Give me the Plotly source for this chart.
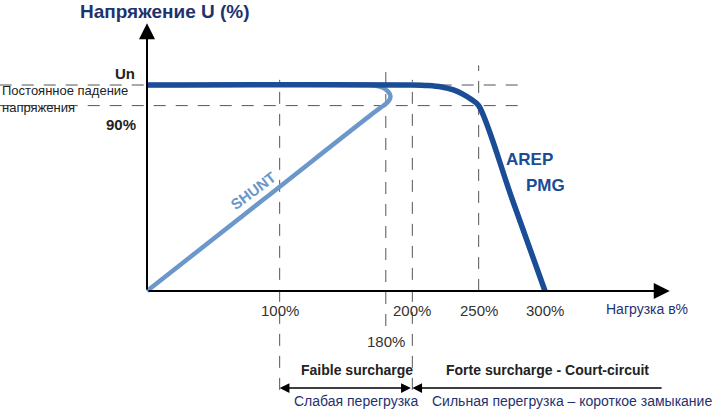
import plotly.graph_objects as go

# ---- data (load %, voltage %) ----
arep_load = [0, 200, 212, 222, 231, 238, 244, 250, 275, 300]
arep_volt = [100, 100, 99.7, 99.0, 97.6, 95.6, 93.2, 90, 45, 0]

shunt_load = [0, 165, 172, 178, 182, 183.5, 182.5, 179.5, 176, 88, 0]
shunt_volt = [100, 100, 99.8, 98.6, 96.6, 94.6, 92.5, 90.5, 89, 44.5, 0]

x_ticks = [100, 200, 250, 300]
x_tick_labels = ["100%", "200%", "250%", "300%"]
x_mark_180 = 180
y_levels = [100, 90]
y_level_labels = ["Un", "90%"]

AREP_C = "#1b4c96"
SHUNT_C = "#6b97ca"
NAVY = "#1f3270"
GRAY = "#555555"
SANS = "Liberation Sans, Arial"

fig = go.Figure()

# dashed guide lines
dash = "12px,10px"
for lvl in y_levels:
    fig.add_shape(type="line", x0=-111, x1=286, y0=lvl, y1=lvl,
                  line=dict(color=GRAY, width=1, dash=dash), layer="below")
for xv, y0, y1 in [(100, -48, 102.5), (x_mark_180, -17, 108.5),
                   (200, -48, 102.5), (250, 0, 109.5)]:
    fig.add_shape(type="line", x0=xv, x1=xv, y0=y0, y1=y1,
                  line=dict(color=GRAY, width=1, dash=dash), layer="below")

# curves
fig.add_trace(go.Scatter(x=shunt_load, y=shunt_volt, mode="lines",
                         line=dict(color=SHUNT_C, width=4.5, shape="spline", smoothing=1.0),
                         hoverinfo="skip"))
fig.add_trace(go.Scatter(x=arep_load, y=arep_volt, mode="lines",
                         line=dict(color=AREP_C, width=5.5, shape="spline", smoothing=0.9),
                         hoverinfo="skip"))

ann = []
# axes with arrows
ann.append(dict(x=394, y=0, ax=0, ay=0, axref="x", ayref="y", xref="x", yref="y",
                text="", showarrow=True, arrowhead=2, arrowsize=1.6, arrowwidth=2,
                arrowcolor="black", standoff=0))
ann.append(dict(x=0, y=130, ax=0, ay=0, axref="x", ayref="y", xref="x", yref="y",
                text="", showarrow=True, arrowhead=2, arrowsize=1.6, arrowwidth=2,
                arrowcolor="black", standoff=0))

# titles
ann.append(dict(x=13.5, y=135.5, text="<b>Напряжение U (%)</b>", showarrow=False,
                font=dict(family=SANS, size=19, color=NAVY), xanchor="center", yanchor="middle"))
ann.append(dict(x=377, y=-8.7, text="Нагрузка в%", showarrow=False,
                font=dict(family=SANS, size=14, color=NAVY), xanchor="center", yanchor="middle"))

# y labels
ann.append(dict(x=-7.5, y=105.8, text="<b>" + y_level_labels[0] + "</b>", showarrow=False,
                font=dict(family=SANS, size=15, color="#222"), xanchor="right", yanchor="middle"))
ann.append(dict(x=-7, y=81, text="<b>" + y_level_labels[1] + "</b>", showarrow=False,
                font=dict(family=SANS, size=15, color="#222"), xanchor="right", yanchor="middle"))
ann.append(dict(x=-110.3, y=93.4, text="Постоянное падение", showarrow=False, borderpad=0,
                font=dict(family=SANS, size=13, color="#222"), xanchor="left", yanchor="bottom"))
ann.append(dict(x=-110.3, y=93.4, text="напряжения", showarrow=False, borderpad=0,
                font=dict(family=SANS, size=13, color="#222"), xanchor="left", yanchor="top"))

# x tick labels
for xv, lab in zip(x_ticks, x_tick_labels):
    ann.append(dict(x=xv, y=-9.7, text=lab, showarrow=False,
                    font=dict(family=SANS, size=15, color="#333"), xanchor="center", yanchor="middle"))
ann.append(dict(x=x_mark_180, y=-24.3, text="180%", showarrow=False,
                font=dict(family=SANS, size=15, color="#333"), xanchor="center", yanchor="middle"))

# curve labels
ann.append(dict(x=80, y=49, text="<b>SHUNT</b>", showarrow=False, textangle=-37,
                font=dict(family=SANS, size=15, color=SHUNT_C)))
ann.append(dict(x=288, y=63.6, text="<b>AREP</b>", showarrow=False,
                font=dict(family=SANS, size=17, color=AREP_C)))
ann.append(dict(x=300, y=51, text="<b>PMG</b>", showarrow=False,
                font=dict(family=SANS, size=17, color=AREP_C)))

# bracket zones
ann.append(dict(x=158, y=-38.3, text="<b>Faible surcharge</b>", showarrow=False,
                font=dict(family=SANS, size=14, color="#222")))
ann.append(dict(x=302, y=-38.3, text="<b>Forte surcharge - Court-circuit</b>", showarrow=False,
                font=dict(family=SANS, size=14, color="#222")))
ann.append(dict(x=100, y=-47.1, ax=200, ay=-47.1, axref="x", ayref="y", xref="x", yref="y",
                text="", showarrow=True, arrowhead=2, startarrowhead=2, arrowside="end+start",
                arrowsize=1.3, startarrowsize=1.3, arrowwidth=1.5, arrowcolor="black", standoff=0))
ann.append(dict(x=200, y=-47.1, ax=389, ay=-47.1, axref="x", ayref="y", xref="x", yref="y",
                text="", showarrow=True, arrowhead=2, arrowsize=1.3, arrowwidth=1.5,
                arrowcolor="black", standoff=0))
ann.append(dict(x=158, y=-53.4, text="Слабая перегрузка", showarrow=False,
                font=dict(family=SANS, size=14, color=NAVY)))
ann.append(dict(x=320, y=-53.4, text="Сильная перегрузка – короткое замыкание", showarrow=False,
                font=dict(family=SANS, size=14, color=NAVY)))

fig.update_layout(
    width=720, height=410,
    margin=dict(l=0, r=0, t=0, b=0),
    paper_bgcolor="white", plot_bgcolor="white",
    showlegend=False,
    xaxis=dict(range=[-110.8, 431.9], visible=False, fixedrange=True),
    yaxis=dict(range=[-57.77, 141.26], visible=False, fixedrange=True),
    annotations=ann,
)

fig.write_html("out.html", config={"displayModeBar": False},
               post_script="document.body.style.margin='0';")
